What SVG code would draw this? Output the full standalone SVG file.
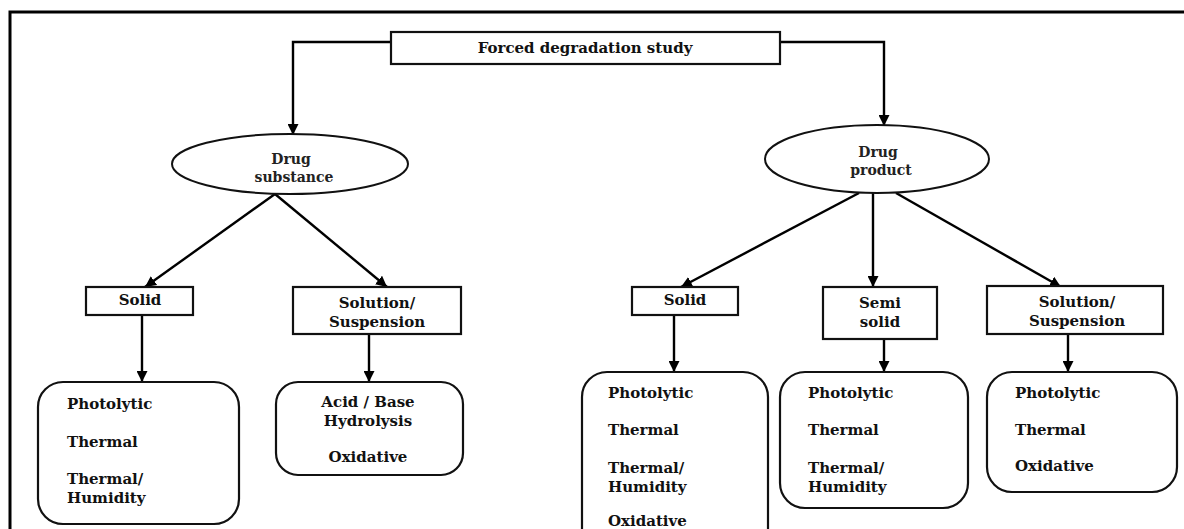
<svg xmlns="http://www.w3.org/2000/svg" width="1184" height="529" viewBox="0 0 1184 529">
<defs>
<marker id="arr" viewBox="0 0 10 10" refX="10" refY="5" markerWidth="11" markerHeight="11" markerUnits="userSpaceOnUse" orient="auto">
<path d="M0,0 L10,5 L0,10 z" fill="#000"/>
</marker>
<style>
.box{fill:#fff;stroke:#111;stroke-width:2.2}
.ell{fill:#fff;stroke:#111;stroke-width:2}
.t{font-family:"DejaVu Serif","Liberation Serif",serif;font-weight:bold;font-size:15px;fill:#111}
.c{text-anchor:middle}
.e{font-family:"DejaVu Serif","Liberation Serif",serif;font-weight:bold;font-size:14px;fill:#222;text-anchor:middle}
.ln{fill:none;stroke:#000;stroke-width:2.4;marker-end:url(#arr)}
</style>
</defs>
<rect width="1184" height="529" fill="#fff"/>
<path d="M10,529 L10,12 L1184,12" fill="none" stroke="#000" stroke-width="3"/>

<g id="connectors">
<polyline class="ln" points="391,42 293,42 293,135"/>
<polyline class="ln" points="780,42 884,42 884,126"/>
<line class="ln" x1="275" y1="194" x2="145" y2="287"/>
<line class="ln" x1="275" y1="194" x2="387" y2="287"/>
<line class="ln" x1="142" y1="315" x2="142" y2="382"/>
<line class="ln" x1="369" y1="334" x2="369" y2="382"/>
<line class="ln" x1="859" y1="193" x2="681" y2="287"/>
<line class="ln" x1="873" y1="193" x2="873" y2="287"/>
<line class="ln" x1="896" y1="193" x2="1061" y2="287"/>
<line class="ln" x1="674" y1="315" x2="674" y2="372"/>
<line class="ln" x1="884" y1="339" x2="884" y2="372"/>
<line class="ln" x1="1068" y1="334" x2="1068" y2="372"/>
</g>

<g id="n-forced">
<rect class="box" x="391" y="32" width="389" height="32"/>
<text class="t c" x="585" y="53">Forced degradation study</text>
</g>

<g id="n-substance">
<ellipse class="ell" cx="290" cy="164" rx="118" ry="30"/>
<text class="e" x="291" y="164">Drug</text>
<text class="e" x="294" y="182">substance</text>
</g>

<g id="n-product">
<ellipse class="ell" cx="877" cy="159" rx="112" ry="34"/>
<text class="e" x="878" y="157">Drug</text>
<text class="e" x="881" y="175">product</text>
</g>

<g id="n-ds-solid">
<rect class="box" x="86" y="287" width="107" height="28"/>
<text class="t c" x="140" y="305">Solid</text>
</g>

<g id="n-ds-solution">
<rect class="box" x="293" y="287" width="168" height="47"/>
<text class="t c" x="377" y="308">Solution/</text>
<text class="t c" x="377" y="327">Suspension</text>
</g>

<g id="n-ds-solid-tests">
<rect class="box" x="38" y="382" width="201" height="142" rx="25"/>
<text class="t" x="67" y="409">Photolytic</text>
<text class="t" x="67" y="447">Thermal</text>
<text class="t" x="67" y="484">Thermal/</text>
<text class="t" x="67" y="503">Humidity</text>
</g>

<g id="n-ds-solution-tests">
<rect class="box" x="276" y="382" width="187" height="93" rx="22"/>
<text class="t c" x="368" y="407">Acid / Base</text>
<text class="t c" x="368" y="426">Hydrolysis</text>
<text class="t c" x="368" y="462">Oxidative</text>
</g>

<g id="n-dp-solid">
<rect class="box" x="632" y="287" width="106" height="28"/>
<text class="t c" x="685" y="305">Solid</text>
</g>

<g id="n-dp-semisolid">
<rect class="box" x="823" y="287" width="114" height="52"/>
<text class="t c" x="880" y="308">Semi</text>
<text class="t c" x="880" y="327">solid</text>
</g>

<g id="n-dp-solution">
<rect class="box" x="987" y="286" width="176" height="48"/>
<text class="t c" x="1077" y="307">Solution/</text>
<text class="t c" x="1077" y="326">Suspension</text>
</g>

<g id="n-dp-solid-tests">
<rect class="box" x="582" y="372" width="186" height="185" rx="25"/>
<text class="t" x="608" y="398">Photolytic</text>
<text class="t" x="608" y="435">Thermal</text>
<text class="t" x="608" y="473">Thermal/</text>
<text class="t" x="608" y="492">Humidity</text>
<text class="t" x="608" y="526">Oxidative</text>
</g>

<g id="n-dp-semisolid-tests">
<rect class="box" x="780" y="372" width="188" height="136" rx="25"/>
<text class="t" x="808" y="398">Photolytic</text>
<text class="t" x="808" y="435">Thermal</text>
<text class="t" x="808" y="473">Thermal/</text>
<text class="t" x="808" y="492">Humidity</text>
</g>

<g id="n-dp-solution-tests">
<rect class="box" x="987" y="372" width="190" height="120" rx="25"/>
<text class="t" x="1015" y="398">Photolytic</text>
<text class="t" x="1015" y="435">Thermal</text>
<text class="t" x="1015" y="471">Oxidative</text>
</g>
</svg>
